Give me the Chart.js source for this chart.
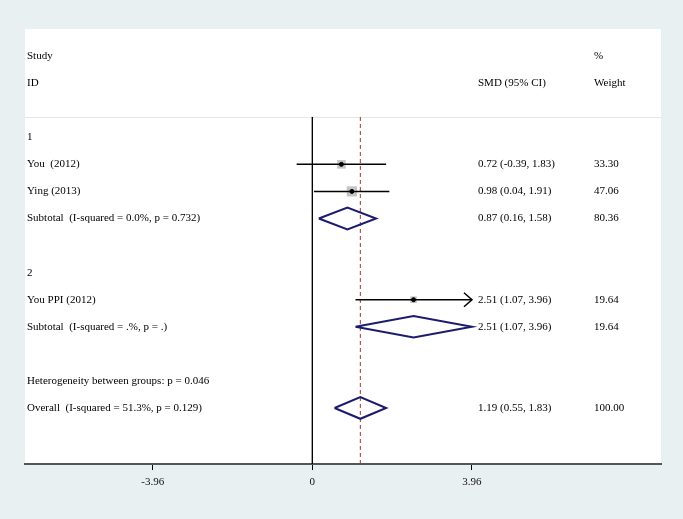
<!DOCTYPE html>
<html>
<head>
<meta charset="utf-8">
<script src="https://cdn.jsdelivr.net/npm/chart.js@4.4.1/dist/chart.umd.min.js"></script>
<style>
  html, body { margin: 0; padding: 0; background: #e9f0f1; }
  #wrap { width: 683px; height: 519px; }
</style>
</head>
<body>
<div id="wrap"><canvas id="forest" width="683" height="519"></canvas></div>
<script>
// study rows (row index counts down from the "Study" header line)
const studyLabels = ['You  (2012)', 'Ying (2013)', 'You PPI (2012)'];
const studyEst = [0.72, 0.98, 2.51];
const studyLo = [-0.39, 0.04, 1.07];
const studyHi = [1.83, 1.91, 3.96];
const studyWeight = [33.30, 47.06, 19.64];
const studyRow = [4, 5, 9];

// pooled estimates (diamonds)
const poolLabels = ['Subtotal  (I-squared = 0.0%, p = 0.732)', 'Subtotal  (I-squared = .%, p = .)', 'Overall  (I-squared = 51.3%, p = 0.129)'];
const poolEst = [0.87, 2.51, 1.19];
const poolLo = [0.16, 1.07, 0.55];
const poolHi = [1.58, 3.96, 1.83];
const poolWeight = [80.36, 19.64, 100.00];
const poolRow = [6, 10, 13];

const groupLabels = ['1', '2'];
const groupRow = [3, 8];
const hetLabel = 'Heterogeneity between groups: p = 0.046';
const hetRow = 12;

const xTicks = [-3.96, 0, 3.96];
const overallEst = 1.19;

const X_MIN = -7.13, X_MAX = 8.65;
const Y_MIN = -1, Y_MAX = 15.07, LINE_TOP = 2.25;
const FONT = '11px "Liberation Serif", "Times New Roman", serif';

const fmt = v => v.toFixed(2);
const ciText = (e, l, h) => `${fmt(e)} (${fmt(l)}, ${fmt(h)})`;

const datasets = [];

// reference lines (drawn underneath)
datasets.push({
    order: 4,
    data: [{ x: 0, y: LINE_TOP }, { x: 0, y: Y_MAX }],
    showLine: true, borderColor: '#000', borderWidth: 1, pointRadius: 0
});
datasets.push({
    order: 4,
    data: [{ x: overallEst, y: LINE_TOP }, { x: overallEst, y: Y_MAX }],
    showLine: true, borderColor: '#a3333d', borderWidth: 1, borderDash: [4, 3], pointRadius: 0
});

// weight boxes
datasets.push({
    order: 3,
    data: studyRow.map((r, i) => ({ x: studyEst[i], y: r })),
    pointStyle: 'rect',
    pointRadius: studyWeight.map(w => 1.05 * Math.sqrt(w)),
    backgroundColor: '#c4c4c4', borderColor: '#c4c4c4', borderWidth: 0
});

// confidence interval lines
studyRow.forEach((r, i) => {
    datasets.push({
        order: 2,
        data: [{ x: studyLo[i], y: r }, { x: studyHi[i], y: r }],
        showLine: true, borderColor: '#000', borderWidth: 1.5, pointRadius: 0
    });
});

// point estimates
datasets.push({
    order: 1,
    data: studyRow.map((r, i) => ({ x: studyEst[i], y: r })),
    pointStyle: 'circle', pointRadius: 2,
    backgroundColor: '#000', borderColor: '#000', borderWidth: 1
});

// diamonds
poolRow.forEach((r, i) => {
    const h = 0.4;
    datasets.push({
        order: 1,
        data: [
            { x: poolLo[i], y: r }, { x: poolEst[i], y: r - h },
            { x: poolHi[i], y: r }, { x: poolEst[i], y: r + h },
            { x: poolLo[i], y: r }
        ],
        showLine: true, borderColor: '#1c1c6e', borderWidth: 2, pointRadius: 0,
        borderJoinStyle: 'miter'
    });
});

const panelPlugin = {
    id: 'panel',
    beforeDraw(chart) {
        const { ctx, chartArea: a } = chart;
        ctx.save();
        ctx.fillStyle = '#e9f0f1';
        ctx.fillRect(0, 0, chart.width, chart.height);
        ctx.fillStyle = '#ffffff';
        ctx.fillRect(a.left, a.top, a.right - a.left, a.bottom - a.top);
        const yl = chart.scales.y.getPixelForValue(LINE_TOP);
        ctx.strokeStyle = '#e6e6e6';
        ctx.lineWidth = 1;
        ctx.beginPath();
        ctx.moveTo(a.left, yl + 0.5);
        ctx.lineTo(a.right, yl + 0.5);
        ctx.stroke();
        ctx.restore();
    }
};

const textPlugin = {
    id: 'texts',
    afterDatasetsDraw(chart) {
        const { ctx } = chart;
        const x = chart.scales.x, y = chart.scales.y;
        const colL = 27, colCI = 478, colW = 594;
        ctx.save();
        ctx.font = FONT;
        ctx.fillStyle = '#000';
        ctx.textBaseline = 'middle';
        ctx.textAlign = 'left';
        const put = (t, px, row) => ctx.fillText(t, px, y.getPixelForValue(row));

        put('Study', colL, 0);
        put('%', colW, 0);
        put('ID', colL, 1);
        put('SMD (95% CI)', colCI, 1);
        put('Weight', colW, 1);

        groupLabels.forEach((g, i) => put(g, colL, groupRow[i]));
        studyRow.forEach((r, i) => {
            put(studyLabels[i], colL, r);
            put(ciText(studyEst[i], studyLo[i], studyHi[i]), colCI, r);
            put(fmt(studyWeight[i]), colW, r);
        });
        poolRow.forEach((r, i) => {
            put(poolLabels[i], colL, r);
            put(ciText(poolEst[i], poolLo[i], poolHi[i]), colCI, r);
            put(fmt(poolWeight[i]), colW, r);
        });
        put(hetLabel, colL, hetRow);

        // arrowheads where the CI reaches the axis limit
        const lim = xTicks[xTicks.length - 1];
        ctx.strokeStyle = '#000';
        ctx.lineWidth = 1.5;
        studyRow.forEach((r, i) => {
            if (studyHi[i] < lim) return;
            const px = x.getPixelForValue(lim), py = y.getPixelForValue(r);
            ctx.beginPath();
            ctx.moveTo(px - 8, py - 7);
            ctx.lineTo(px, py);
            ctx.lineTo(px - 8, py + 7);
            ctx.stroke();
        });
        ctx.restore();
    }
};

new Chart(document.getElementById('forest'), {
    type: 'scatter',
    data: { datasets },
    options: {
        responsive: false,
        animation: false,
        events: [],
        layout: { padding: { left: 25, right: 22, top: 29, bottom: 0 } },
        plugins: { legend: { display: false }, tooltip: { enabled: false } },
        scales: {
            x: {
                type: 'linear', min: X_MIN, max: X_MAX,
                afterBuildTicks: s => { s.ticks = xTicks.map(v => ({ value: v })); },
                afterFit: s => { s.height = 55; },
                grid: { drawOnChartArea: false, tickLength: 6, color: '#000', tickWidth: 1 },
                border: { color: '#555', width: 2 },
                ticks: {
                    color: '#111', padding: 6,
                    font: { family: '"Liberation Serif", serif', size: 11 },
                    callback: v => fmt(v).replace(/^0\.00$/, '0'),
                    maxRotation: 0, autoSkip: false
                }
            },
            y: {
                type: 'linear', min: Y_MIN, max: Y_MAX, reverse: true, display: false
            }
        }
    },
    plugins: [panelPlugin, textPlugin]
});
</script>
</body>
</html>
